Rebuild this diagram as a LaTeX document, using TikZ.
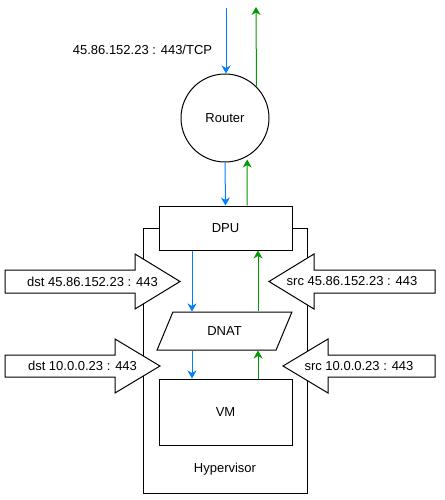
\documentclass[tikz,border=0pt]{standalone}
\usepackage{fontspec}
\setmainfont{Liberation Sans}
\usetikzlibrary{arrows.meta, shapes.geometric}

\definecolor{flowblue}{HTML}{007FFF}
\definecolor{flowgreen}{HTML}{009900}

\tikzset{
  lbl/.style={font=\fontsize{13}{15}\selectfont, inner sep=0pt},
  box/.style={draw, fill=white, line width=1pt, minimum width=133pt},
  blockarrow/.style={draw, fill=white, line width=1pt},
  downflow/.style={flowblue, line width=1pt, -{Stealth[length=8pt,width=9pt,inset=2.5pt]}},
  upflow/.style={flowgreen, line width=1pt, -{Stealth[length=8pt,width=9pt,inset=2.5pt]}}
}

\begin{document}
\begin{tikzpicture}[x=1pt, y=-1pt]
      \useasboundingbox (0,0) rectangle (444,500);

      % 1. lanes for the traffic in and out
      \coordinate (wan-in) at (226,8);
      \coordinate (wan-out) at (256,7);
      \coordinate (uplane1) at (247,0);
      \coordinate (downlane) at (192,0);
      \coordinate (uplane2) at (258,0);

      % 2. router and public address
      \node[lbl] (wanlbl) at (142.5,50) {45.86.152.23 : 443/TCP};
      \node[circle, draw, line width=1pt, minimum size=88pt, lbl] (router) at (225,118) {Router};

      % 3. hypervisor with DPU, DNAT and VM
      \node[draw, line width=1pt, minimum width=164pt, minimum height=265pt] (hyp) at (225,360.5) {};
      \node[lbl] (hyplbl) at (225,469) {Hypervisor};
      \node[box, minimum height=44pt, lbl] (dpu) at (225.5,228) {DPU};
      \node[trapezium, trapezium left angle=59.4, trapezium right angle=120.6,
            trapezium stretches=true, minimum width=135pt, minimum height=38pt,
            draw, fill=white, line width=1pt, lbl] (dnat) at (224.5,331) {DNAT};
      \node[box, minimum height=66pt, lbl] (vm) at (225.5,412) {VM};

      % 4. packet flow
      \draw[downflow] (wan-in) -- (wan-in |- router.north);
      \draw[upflow] (router.45) -- (wan-out);
      \draw[downflow] (router.south) -- (dpu.north);
      \draw[upflow, shorten >=3pt] (dpu.north -| uplane1) -- (router.-60);
      \draw[downflow] (dpu.south -| downlane) -- (dnat.north -| downlane);
      \draw[upflow] (dnat.north -| uplane2) -- (dpu.south -| uplane2);
      \draw[downflow] (dnat.south -| downlane) -- (vm.north -| downlane);
      \draw[upflow] (vm.north -| uplane2) -- (dnat.south -| uplane2);

      % 5. addresses seen on each side of the DNAT
      \draw[blockarrow] (5,270) -- (135,270) -- (135,254) -- (180,281.5) -- (135,309) -- (135,293) -- (5,293) -- cycle;
      \node[lbl] (dstpub) at (92.5,281.5) {dst 45.86.152.23 : 443};
      \draw[blockarrow] (435,270) -- (314,270) -- (314,254) -- (269,281.5) -- (314,309) -- (314,293) -- (435,293) -- cycle;
      \node[lbl] (srcpub) at (352,281.5) {src 45.86.152.23 : 443};
      \draw[blockarrow] (5,355) -- (115,355) -- (115,339) -- (160,366) -- (115,393) -- (115,377) -- (5,377) -- cycle;
      \node[lbl] (dstpriv) at (82.5,366) {dst 10.0.0.23 : 443};
      \draw[blockarrow] (435,355) -- (328,355) -- (328,339) -- (283,366) -- (328,393) -- (328,377) -- (435,377) -- cycle;
      \node[lbl] (srcpriv) at (359,366) {src 10.0.0.23 : 443};
\end{tikzpicture}
\end{document}
